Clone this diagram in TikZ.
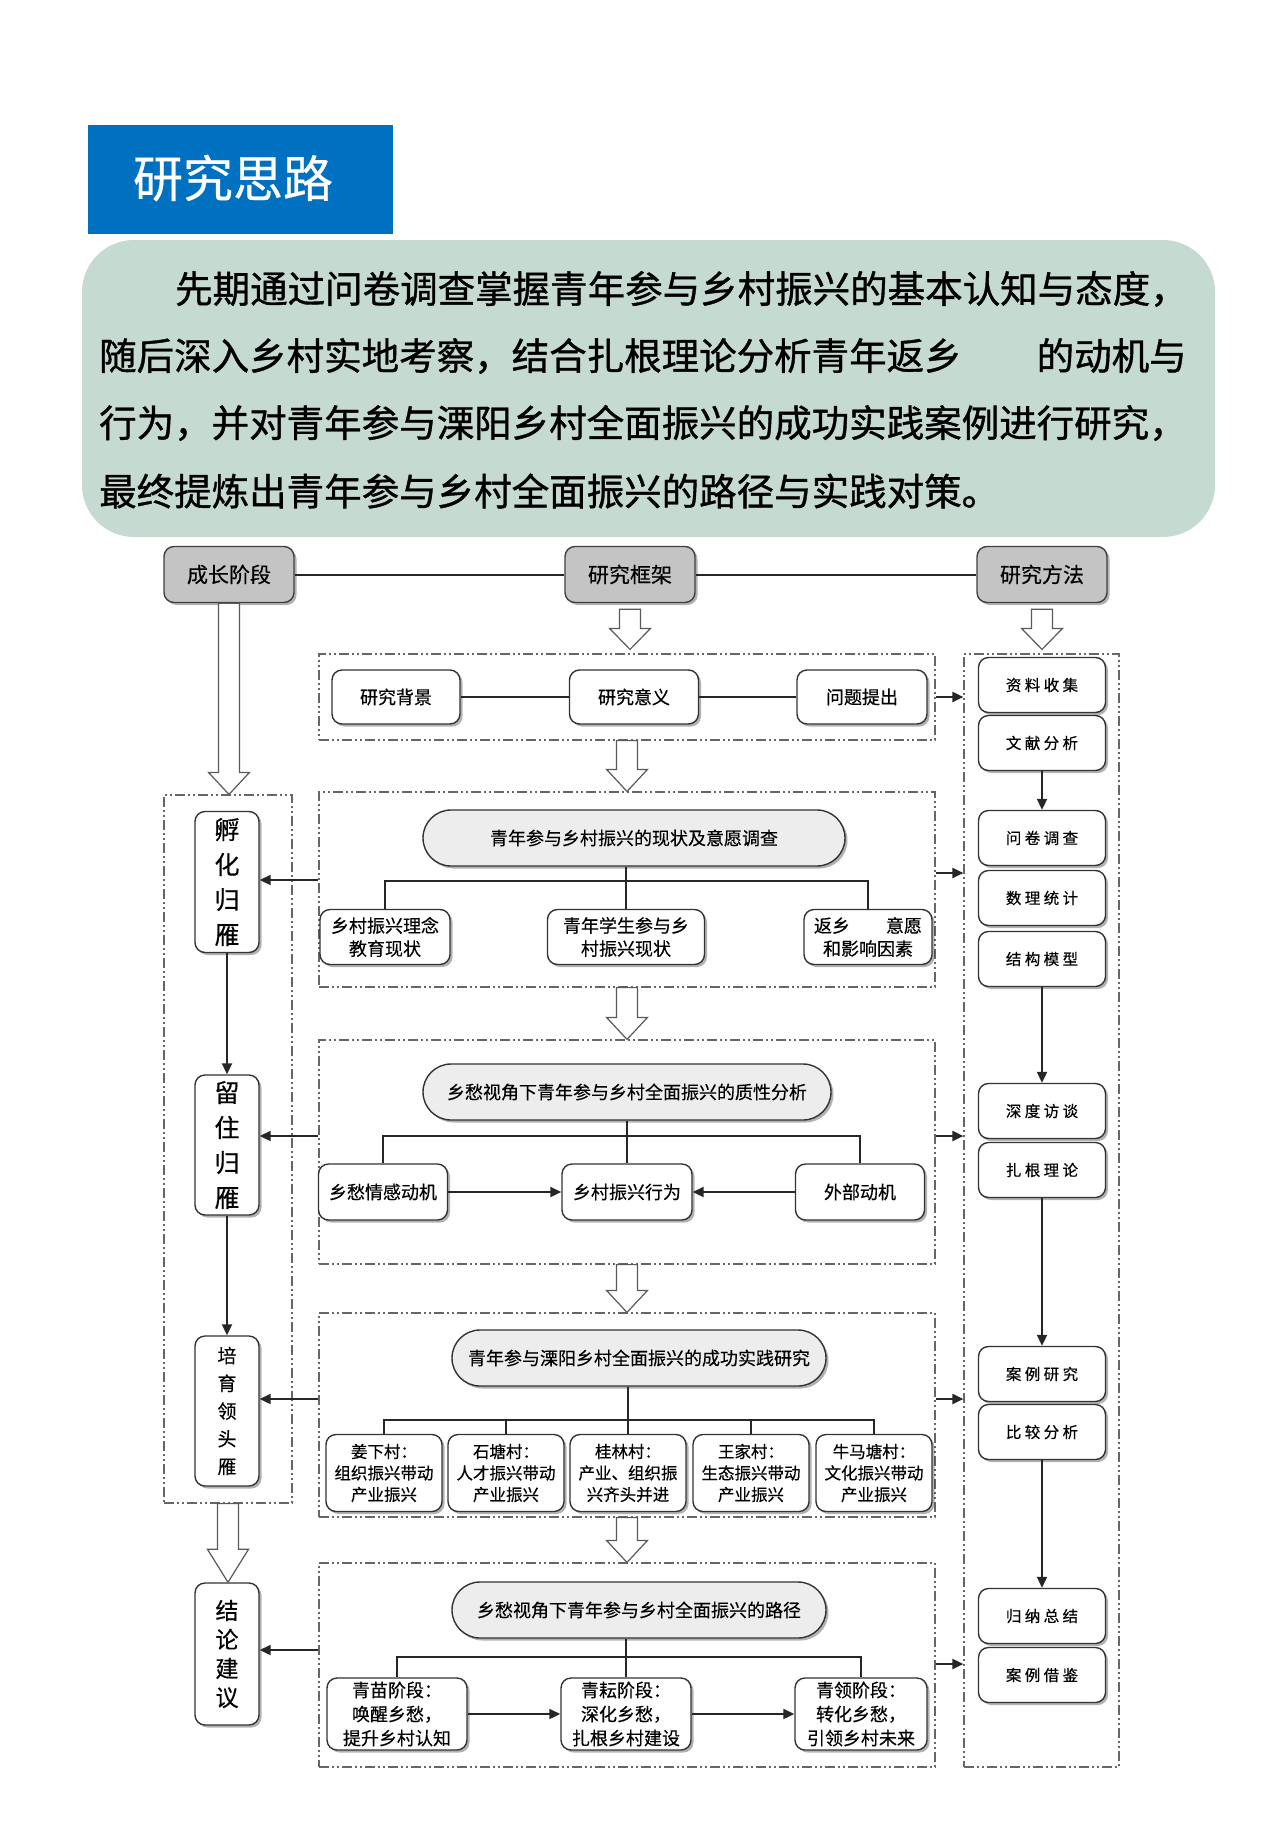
\documentclass[tikz,border=0pt]{standalone}
\usepackage{fontspec}
\setmainfont{Noto Sans CJK SC}[FakeBold=0.4]
\newfontfamily\methfont[LetterSpace=22,FakeBold=0.4]{Noto Sans CJK SC}
\newfontfamily\parafont[FakeBold=1.0]{Noto Sans CJK SC}
\usetikzlibrary{shapes.misc,shadows,calc,arrows.meta}
\definecolor{titleblue}{RGB}{0,112,192}
\definecolor{panelgreen}{RGB}{197,218,209}
\definecolor{hdrgray}{RGB}{196,196,196}
\definecolor{ovalgray}{RGB}{237,237,237}
\tikzset{
 conn/.style={line width=2pt, draw=black!85},
 arr/.style={conn, -{Triangle[length=11pt,width=10pt]}},
 shad/.style={drop shadow={shadow xshift=2.5pt,shadow yshift=-2.5pt,opacity=0.3,fill=black}},
 hdr/.style={draw=black!75, line width=1.4pt, fill=hdrgray, rounded corners=10pt, minimum width=130pt, minimum height=56pt, font=\fontsize{21}{24}\selectfont, shad, inner sep=0pt},
 nbox/.style={draw=black!80, line width=1.4pt, fill=white, rounded corners=10pt, minimum width=128pt, minimum height=54pt, font=\fontsize{18}{23}\selectfont, align=center, inner sep=0pt, shad},
 vbox/.style={nbox, minimum width=64pt},
 mbox/.style={nbox, minimum width=127pt, minimum height=55pt, font=\methfont\fontsize{15.5}{20}\selectfont},
 cbox/.style={nbox, minimum width=116pt, minimum height=77pt, font=\fontsize{16.5}{21.5}\selectfont},
 sbox/.style={nbox, minimum height=72pt, font=\fontsize{18}{24}\selectfont},
 pill/.style={rounded rectangle, draw=black!80, line width=1.4pt, fill=ovalgray, minimum height=56pt, font=\fontsize{18}{22}\selectfont, inner sep=0pt, shad},
 dbox/.style={draw=black!60, line width=1.2pt, dash pattern=on 10pt off 3pt on 2pt off 3pt on 2pt off 3pt, minimum width=616pt, inner sep=0pt},
 harr/.style={draw=black!65, line width=1.2pt, fill=white},
 para/.style={anchor=west, inner sep=0pt, font=\parafont\fontsize{37.5}{40}\selectfont},
}
\newcommand\harrow[3]{\draw[harr] let \p1=(#1), \p2=(#2) in (\x1-10.5pt,\y1) -- (\x1-10.5pt,\y2+#3) -- (\x1-20.5pt,\y2+#3) -- (\x1,\y2) -- (\x1+20.5pt,\y2+#3) -- (\x1+10.5pt,\y2+#3) -- (\x1+10.5pt,\y1) -- cycle;}
\begin{document}
\begin{tikzpicture}[x=1pt,y=-1pt]
\useasboundingbox[fill=white] (0,0) rectangle (1269,1833);
% title and panel
\node[fill=titleblue, minimum width=305pt, minimum height=109pt, inner sep=0pt] (title) at (240.5,179.5) {};
\node[text=white, font=\fontsize{50}{52}\selectfont, inner sep=0pt] (titletext) at (233,178) {研究思路};
\node[fill=panelgreen, rounded corners=52pt, minimum width=1133pt, minimum height=297pt, inner sep=0pt] (panel) at (648.5,388.5) {};
\node[para] (p1) at (175,289) {先期通过问卷调查掌握青年参与乡村振兴的基本认知与态度，};
\node[para] (p2) at (99,356) {随后深入乡村实地考察，结合扎根理论分析青年返乡　　的动机与};
\node[para] (p3) at (99,423) {行为，并对青年参与溧阳乡村全面振兴的成功实践案例进行研究，};
\node[para] (p4) at (99,491) {最终提炼出青年参与乡村全面振兴的路径与实践对策。};
% dashed frames
\node[dbox, minimum height=86pt] (b1) at (627,697) {};
\node[dbox, minimum height=195pt] (b2) at (627,889.5) {};
\node[dbox, minimum height=224pt] (b3) at (627,1152) {};
\node[dbox, minimum height=204pt] (b4) at (627,1415) {};
\node[dbox, minimum height=204pt] (b5) at (627,1665) {};
\node[dbox, minimum width=128pt, minimum height=708pt] (lb) at (228,1149) {};
\node[dbox, minimum width=155pt, minimum height=1113pt] (mb) at (1041.5,1210.5) {};
% headers
\node[hdr] (cz) at (229,574.5) {成长阶段};
\node[hdr] (fw) at (630,574.5) {研究框架};
\node[hdr] (ff) at (1042,574.5) {研究方法};
\draw[conn] (cz.east) -- (fw.west);
\draw[conn] (fw.east) -- (ff.west);
% box 1
\node[nbox] (bg) at (396,697) {研究背景};
\node[nbox, minimum width=129pt] (yy) at (634,697) {研究意义};
\node[nbox, minimum width=130pt] (wt) at (862,697) {问题提出};
\draw[conn] (bg) -- (yy);
\draw[conn] (yy) -- (wt);
% box 2
\node[pill, minimum width=422pt] (o2) at (634,838) {青年参与乡村振兴的现状及意愿调查};
\node[nbox, minimum width=130pt, minimum height=55pt] (c21) at (385,937) {乡村振兴理念\\教育现状};
\node[nbox, minimum width=157pt, minimum height=55pt] (c22) at (626,937) {青年学生参与乡\\村振兴现状};
\node[nbox, minimum width=128pt, minimum height=55pt] (c23) at (868,937) {返乡　　意愿\\和影响因素};
\coordinate (j2) at (626,881);
\draw[conn] (c22 |- o2.south) -- (c22.north);
\draw[conn] (c21.north) |- (j2) -| (c23.north);
% box 3
\node[pill, minimum width=408pt] (o3) at (627,1092) {乡愁视角下青年参与乡村全面振兴的质性分析};
\node[nbox, minimum width=129pt, minimum height=56pt] (c31) at (383,1192) {乡愁情感动机};
\node[nbox, minimum width=130pt, minimum height=56pt] (c32) at (627,1192) {乡村振兴行为};
\node[nbox, minimum width=129pt, minimum height=56pt] (c33) at (860,1192) {外部动机};
\coordinate (j3) at (627,1136);
\draw[conn] (c32 |- o3.south) -- (c32.north);
\draw[conn] (c31.north) |- (j3) -| (c33.north);
\draw[arr] (c31) -- (c32);
\draw[arr] (c33) -- (c32);
% box 4
\node[pill, minimum width=374pt] (o4) at (639,1358) {青年参与溧阳乡村全面振兴的成功实践研究};
\node[cbox] (v1) at (384,1473) {姜下村：\\组织振兴带动\\产业振兴};
\node[cbox] (v2) at (506,1473) {石塘村：\\人才振兴带动\\产业振兴};
\node[cbox] (v3) at (628,1473) {桂林村：\\产业、组织振\\兴齐头并进};
\node[cbox] (v4) at (751,1473) {王家村：\\生态振兴带动\\产业振兴};
\node[cbox] (v5) at (874,1473) {牛马塘村：\\文化振兴带动\\产业振兴};
\coordinate (j4) at (628,1420);
\draw[conn] (v3 |- o4.south) -- (v3.north);
\draw[conn] (v1.north) |- (j4) -| (v5.north);
\draw[conn] (v2.north) -- (v2 |- j4);
\draw[conn] (v4.north) -- (v4 |- j4);
% box 5
\node[pill, minimum width=374pt] (o5) at (639,1610) {乡愁视角下青年参与乡村全面振兴的路径};
\node[sbox, minimum width=140pt] (s1) at (397,1714) {青苗阶段：\\唤醒乡愁，\\提升乡村认知};
\node[sbox, minimum width=130pt] (s2) at (626,1714) {青耘阶段：\\深化乡愁，\\扎根乡村建设};
\node[sbox, minimum width=132pt] (s3) at (861,1714) {青领阶段：\\转化乡愁，\\引领乡村未来};
\coordinate (j5) at (626,1657);
\draw[conn] (s2 |- o5.south) -- (s2.north);
\draw[conn] (s1.north) |- (j5) -| (s3.north);
\draw[arr] (s1) -- (s2);
\draw[arr] (s2) -- (s3);
% left column
\node[vbox, minimum height=141pt, font=\fontsize{25}{35}\selectfont] (hf) at (227,882) {孵\\化\\归\\雁};
\node[vbox, minimum height=140pt, font=\fontsize{25}{35}\selectfont] (lz) at (227,1145) {留\\住\\归\\雁};
\node[vbox, minimum height=150pt, font=\fontsize{19}{27.7}\selectfont] (py) at (227,1411) {培\\育\\领\\头\\雁};
\node[vbox, minimum height=142pt, font=\fontsize{23}{29}\selectfont] (jl) at (227,1654) {结\\论\\建\\议};
\draw[arr] (hf) -- (lz);
\draw[arr] (lz) -- (py);
% methods column
\node[mbox] (m1) at (1042,685) {资料收集};
\node[mbox] (m2) at (1042,743) {文献分析};
\node[mbox] (m3) at (1042,838) {问卷调查};
\node[mbox] (m4) at (1042,898) {数理统计};
\node[mbox] (m5) at (1042,959) {结构模型};
\node[mbox] (m6) at (1042,1111) {深度访谈};
\node[mbox] (m7) at (1042,1170) {扎根理论};
\node[mbox] (m8) at (1042,1374) {案例研究};
\node[mbox] (m9) at (1042,1432) {比较分析};
\node[mbox] (m10) at (1042,1616) {归纳总结};
\node[mbox] (m11) at (1042,1675) {案例借鉴};
\draw[arr] (m2) -- (m3);
\draw[arr] (m5) -- (m6);
\draw[arr] (m7) -- (m8);
\draw[arr] (m9) -- (m10);
% side arrows
\coordinate (r1) at (0,697);
\coordinate (r2) at (0,873);
\coordinate (r3) at (0,1136);
\coordinate (r4) at (0,1399);
\coordinate (r5) at (0,1664);
\draw[arr] (b1.east |- r1) -- (mb.west |- r1);
\draw[arr] (b2.east |- r2) -- (mb.west |- r2);
\draw[arr] (b3.east |- r3) -- (mb.west |- r3);
\draw[arr] (b4.east |- r4) -- (mb.west |- r4);
\draw[arr] (b5.east |- r5) -- (mb.west |- r5);
\coordinate (l2) at (0,880);
\coordinate (l3) at (0,1136);
\coordinate (l4) at (0,1399);
\coordinate (l5) at (0,1650);
\draw[arr] (b2.west |- l2) -- (hf.east |- l2);
\draw[arr] (b3.west |- l3) -- (lz.east |- l3);
\draw[arr] (b4.west |- l4) -- (py.east |- l4);
\draw[arr] (b5.west |- l5) -- (jl.east |- l5);
% hollow arrows
\harrow{[yshift=-6pt]fw.south}{[yshift=4pt]b1.north}{21pt}
\harrow{[yshift=-6pt]ff.south}{[yshift=4pt]mb.north}{21pt}
\harrow{cz.south}{lb.north}{22pt}
\harrow{b1.south}{b2.north}{22pt}
\harrow{b2.south}{b3.north}{22pt}
\harrow{b3.south}{b4.north}{22pt}
\harrow{b4.south}{b5.north}{22pt}
\harrow{lb.south}{jl.north}{33pt}
\end{tikzpicture}
\end{document}
